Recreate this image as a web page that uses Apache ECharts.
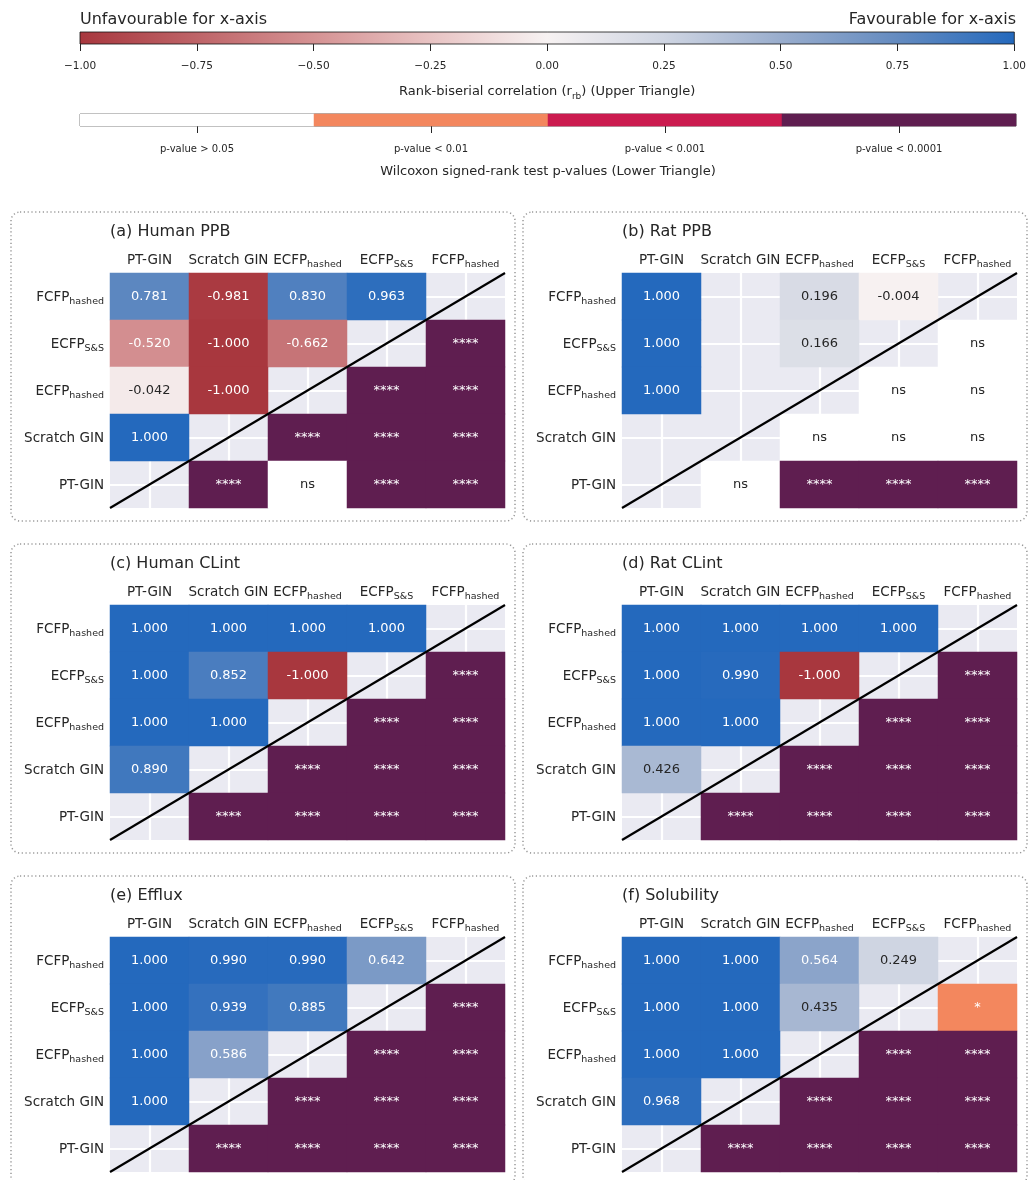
<!DOCTYPE html>
<html><head><meta charset="utf-8">
<script src="https://cdn.jsdelivr.net/npm/echarts@6/dist/echarts.min.js"></script>
<style>html,body{margin:0;padding:0;background:#fff}#c{width:1029px;height:1180px}</style>
</head><body><div id="c"></div>
<script>
// ---------------- DATA ----------------
const models = ['PT-GIN', 'Scratch GIN', 'ECFP_hashed', 'ECFP_S&S', 'FCFP_hashed'];
const panelTitles = ['(a) Human PPB', '(b) Rat PPB', '(c) Human CLint', '(d) Rat CLint', '(e) Efflux', '(f) Solubility'];

// Rank-biserial correlations (upper triangle). Rows top->bottom: FCFP_hashed, ECFP_S&S, ECFP_hashed, Scratch GIN; columns from PT-GIN
const rbHumanPPB = [[0.781, -0.981, 0.830, 0.963], [-0.520, -1.000, -0.662], [-0.042, -1.000], [1.000]];
const rbRatPPB = [[1.000, null, 0.196, -0.004], [1.000, null, 0.166], [1.000, null], [null]];
const rbHumanCLint = [[1.000, 1.000, 1.000, 1.000], [1.000, 0.852, -1.000], [1.000, 1.000], [0.890]];
const rbRatCLint = [[1.000, 1.000, 1.000, 1.000], [1.000, 0.990, -1.000], [1.000, 1.000], [0.426]];
const rbEfflux = [[1.000, 0.990, 0.990, 0.642], [1.000, 0.939, 0.885], [1.000, 0.586], [1.000]];
const rbSolubility = [[1.000, 1.000, 0.564, 0.249], [1.000, 1.000, 0.435], [1.000, 1.000], [0.968]];

// Wilcoxon p-value annotations (lower triangle). Rows top->bottom: ECFP_S&S, ECFP_hashed, Scratch GIN, PT-GIN; columns ending at FCFP_hashed
const pHumanPPB = [['****'], ['****', '****'], ['****', '****', '****'], ['****', 'ns', '****', '****']];
const pRatPPB = [['ns'], ['ns', 'ns'], ['ns', 'ns', 'ns'], ['ns', '****', '****', '****']];
const pHumanCLint = [['****'], ['****', '****'], ['****', '****', '****'], ['****', '****', '****', '****']];
const pRatCLint = [['****'], ['****', '****'], ['****', '****', '****'], ['****', '****', '****', '****']];
const pEfflux = [['****'], ['****', '****'], ['****', '****', '****'], ['****', '****', '****', '****']];
const pSolubility = [['*'], ['****', '****'], ['****', '****', '****'], ['****', '****', '****', '****']];

const rbSets = [rbHumanPPB, rbRatPPB, rbHumanCLint, rbRatCLint, rbEfflux, rbSolubility];
const pSets = [pHumanPPB, pRatPPB, pHumanCLint, pRatCLint, pEfflux, pSolubility];

const pLevelLabels = ['p-value > 0.05', 'p-value < 0.01', 'p-value < 0.001', 'p-value < 0.0001'];
const pLevelOf = { 'ns': 0, '*': 1, '**': 1, '***': 2, '****': 3 };

// ---------------- STYLE ----------------
const FONT = 'DejaVu Sans';
const TXT = '#262626';
const rbColors = ['#A8373E', '#BE6468', '#D59293', '#E8C3C3', '#F7F2F2', '#CFD5E2', '#99ADCD', '#648BC0', '#2469BD'];
const pColors = ['#FFFFFF', '#F3875E', '#CB1B4F', '#5F1E50'];

const colLeft = [110, 622], gridW = [395, 395], rowTop = [273, 605, 937], gridH = 235;
const boxLeft = [11, 523], boxW = 504, boxH = 309;

function richLabel(name) {
  const i = name.indexOf('_');
  if (i < 0) return '{m|' + name + '}';
  return '{m|' + name.slice(0, i) + '}{s|' + name.slice(i + 1) + '}';
}
const labelRichStyles = {
  m: { fontSize: 13.5, fontFamily: FONT, color: TXT, lineHeight: 17, padding: [2, 0, 0, 0], verticalAlign: 'top' },
  s: { fontSize: 9.5, fontFamily: FONT, color: TXT, lineHeight: 10, padding: [9, 0, 0, 0], verticalAlign: 'top' }
};

const chart = echarts.init(document.getElementById('c'), null, { renderer: 'canvas' });

const grids = [], xAxes = [], yAxes = [], series = [], graphics = [];
const rbSeriesIdx = [], pSeriesIdx = [];

// Colorbar 1 (rank-biserial)
const stops = rbColors.map((c, i) => ({ offset: i / (rbColors.length - 1), color: c }));
grids.push({ left: 80, right: 13, top: 32, height: 12, show: true, borderColor: '#111', borderWidth: 0.8,
  backgroundColor: new echarts.graphic.LinearGradient(0, 0, 1, 0, stops) });
xAxes.push({ gridIndex: 0, type: 'value', min: -1, max: 1, interval: 0.25, position: 'bottom',
  axisLine: { show: false }, splitLine: { show: false },
  axisTick: { show: true, length: 7, lineStyle: { color: TXT, width: 1 } },
  axisLabel: { margin: 17, fontSize: 10.5, fontFamily: FONT, color: TXT,
    formatter: v => (v < 0 ? '\u2212' : '') + Math.abs(v).toFixed(2) },
  name: '{m|Rank-biserial correlation (r}{s|rb}{m|) (Upper Triangle)}', nameLocation: 'middle', nameGap: 40,
  nameTextStyle: { rich: {
    m: { fontSize: 13, fontFamily: FONT, color: TXT, lineHeight: 16, padding: [1, 0, 0, 0], verticalAlign: 'top' },
    s: { fontSize: 9, fontFamily: FONT, color: TXT, lineHeight: 10, padding: [8, 0, 0, 0], verticalAlign: 'top' } } } });
yAxes.push({ gridIndex: 0, type: 'value', show: false, min: 0, max: 1 });

// Colorbar 2 (p-values)
grids.push({ left: 80, right: 13, top: 114, height: 12, show: true, borderColor: '#333', borderWidth: 0.8, backgroundColor: 'transparent' });
xAxes.push({ gridIndex: 1, type: 'category', data: pLevelLabels, position: 'bottom',
  axisLine: { show: false }, splitLine: { show: false },
  axisTick: { show: true, alignWithLabel: true, length: 7, lineStyle: { color: TXT, width: 1 } },
  axisLabel: { margin: 18, fontSize: 10, fontFamily: FONT, color: TXT },
  name: 'Wilcoxon signed-rank test p-values (Lower Triangle)', nameLocation: 'middle', nameGap: 39,
  nameTextStyle: { fontSize: 13, fontFamily: FONT, color: TXT } });
yAxes.push({ gridIndex: 1, type: 'category', data: [''], show: false });
pSeriesIdx.push(series.length);
series.push({ type: 'heatmap', xAxisIndex: 1, yAxisIndex: 1, silent: true,
  data: pLevelLabels.map((l, i) => [i, 0, i]) });

// Panels
for (let p = 0; p < 6; p++) {
  const col = p % 2, row = Math.floor(p / 2);
  const gi = grids.length;
  const left = colLeft[col], top = rowTop[row], w = gridW[col];
  grids.push({ left: left, top: top, width: w, height: gridH, show: true, backgroundColor: '#EAEAF2', borderWidth: 0 });
  xAxes.push({ gridIndex: gi, type: 'category', data: models, position: 'top',
    axisLine: { show: false }, axisTick: { show: false },
    axisLabel: { margin: 5, interval: 0, formatter: richLabel, rich: labelRichStyles },
    splitLine: { show: true, alignWithLabel: true, interval: 0, lineStyle: { color: '#fff', width: 2.2 } } });
  yAxes.push({ gridIndex: gi, type: 'category', data: models,
    axisLine: { show: false }, axisTick: { show: false },
    axisLabel: { margin: 6, interval: 0, formatter: richLabel, rich: labelRichStyles },
    splitLine: { show: true, alignWithLabel: true, interval: 0, lineStyle: { color: '#fff', width: 2.2 } } });

  const rbData = [];
  rbSets[p].forEach((rowVals, k) => {
    const r = 4 - k;
    rowVals.forEach((v, c) => {
      if (v === null) return;
      rbData.push({ value: [c, r, v], label: { color: Math.abs(v) < 0.5 ? TXT : '#fff' } });
    });
  });
  rbSeriesIdx.push(series.length);
  series.push({ type: 'heatmap', xAxisIndex: gi, yAxisIndex: gi, silent: true, data: rbData,
    itemStyle: { borderWidth: 0 },
    label: { show: true, fontSize: 13, fontFamily: FONT, formatter: d => d.value[2].toFixed(3) },
    emphasis: { disabled: true } });

  const pData = [];
  pSets[p].forEach((rowVals, k) => {
    const r = 3 - k;
    rowVals.forEach((a, j) => {
      const c = r + 1 + j;
      const lvl = pLevelOf[a];
      pData.push({ value: [c, r, lvl], name: a, label: { color: lvl === 0 ? TXT : '#fff' } });
    });
  });
  pSeriesIdx.push(series.length);
  series.push({ type: 'heatmap', xAxisIndex: gi, yAxisIndex: gi, silent: true, data: pData,
    itemStyle: { borderWidth: 0 },
    label: { show: true, fontSize: 13, fontFamily: FONT, formatter: '{b}' },
    emphasis: { disabled: true } });

  // decorations
  graphics.push({ type: 'rect', z: 1, silent: true,
    shape: { x: boxLeft[col], y: top - 61, width: boxW, height: boxH, r: 9 },
    style: { fill: 'none', stroke: '#999', lineWidth: 1.5, lineDash: [1.2, 2.6] } });
  graphics.push({ type: 'text', z: 10, silent: true,
    style: { text: panelTitles[p], x: left, y: top - 41, fill: TXT, fontSize: 16, fontFamily: FONT,
      textAlign: 'left', textVerticalAlign: 'middle' } });
  graphics.push({ type: 'line', z: 100, silent: true,
    shape: { x1: left, y1: top + gridH, x2: left + w, y2: top },
    style: { stroke: '#000', lineWidth: 2.2 } });
}

graphics.push({ type: 'text', silent: true,
  style: { text: 'Unfavourable for x-axis', x: 80, y: 20, fill: TXT, fontSize: 16, fontFamily: FONT, textAlign: 'left', textVerticalAlign: 'middle' } });
graphics.push({ type: 'text', silent: true,
  style: { text: 'Favourable for x-axis', x: 1016, y: 20, fill: TXT, fontSize: 16, fontFamily: FONT, textAlign: 'right', textVerticalAlign: 'middle' } });

chart.setOption({
  animation: false,
  backgroundColor: '#fff',
  textStyle: { fontFamily: FONT },
  grid: grids, xAxis: xAxes, yAxis: yAxes,
  visualMap: [
    { type: 'continuous', show: false, min: -1, max: 1, dimension: 2, seriesIndex: rbSeriesIdx, inRange: { color: rbColors } },
    { type: 'piecewise', show: false, dimension: 2, seriesIndex: pSeriesIdx,
      pieces: pColors.map((c, i) => ({ value: i, color: c })) }
  ],
  series: series,
  graphic: graphics
});
</script></body></html>
